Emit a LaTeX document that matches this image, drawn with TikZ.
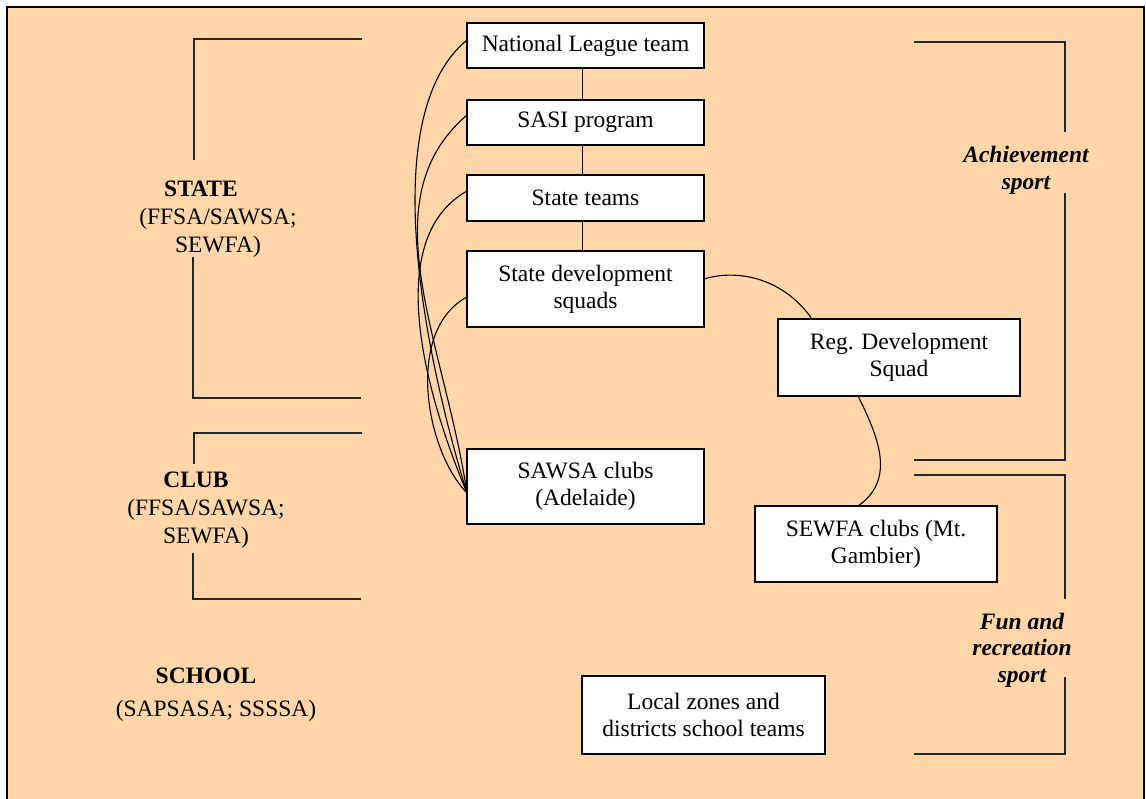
\documentclass[tikz,border=0pt]{standalone}
\usepackage{fontspec}
\setmainfont{Liberation Serif}
\definecolor{peach}{RGB}{255,214,170}
\tikzset{
  box/.style={draw=black, fill=white, line width=1.4pt, align=center, inner sep=0pt, font=\fontsize{23.5}{27}\selectfont},
  lbl/.style={align=center, inner sep=0pt, font=\fontsize{23.5}{28}\selectfont},
  conn/.style={draw=black, line width=1.1pt},
  brk/.style={draw=black!85, line width=1.4pt}
}
\begin{document}
\begin{tikzpicture}[x=1pt,y=-1pt]
\useasboundingbox (0,0) rectangle (1146,798);
\fill[white] (0,0) rectangle (1146,798);
\draw[fill=peach, line width=2pt] (7,7) rectangle (1144,840);

% boxes
\node[box, minimum width=237pt, minimum height=45pt] (nat) at (585.5,45.5) {National League team};
\node[box, minimum width=237pt, minimum height=45pt] (sasi) at (585.5,122.5) {SASI program};
\node[box, minimum width=237pt, minimum height=46pt] (st) at (585.5,198) {State teams};
\node[box, minimum width=237pt, minimum height=76pt] (sds) at (585.5,289) {State development\\squads};
\node[box, minimum width=237pt, minimum height=75pt] (saw) at (585.5,486.5) {SAWSA clubs\\(Adelaide)};
\node[box, minimum width=242pt, minimum height=77pt] (reg) at (899,357.5) {Reg. Development\\Squad};
\node[box, minimum width=242pt, minimum height=76pt] (sew) at (876,544) {SEWFA clubs (Mt.\\Gambier)};
\node[box, minimum width=243pt, minimum height=78pt] (loc) at (703.5,715) {Local zones and\\districts school teams};

% labels
\node[lbl] (state) at (218,219) {\textbf{STATE}\hspace*{34pt}\\(FFSA/SAWSA;\\SEWFA)};
\node[lbl] (club) at (206,510) {\textbf{CLUB}\hspace*{20pt}\\(FFSA/SAWSA;\\SEWFA)};
\node[lbl] (school) at (216,695) {\textbf{SCHOOL}\hspace*{20pt}\\[5pt](SAPSASA; SSSSA)};
\node[lbl, font=\fontsize{23.5}{27}\selectfont\bfseries\itshape] (ach) at (1026,170) {Achievement\\sport};
\node[lbl, font=\fontsize{23.5}{26.5}\selectfont\bfseries\itshape] (fun) at (1022,650) {Fun and\\recreation\\sport};

% vertical connectors
\draw[conn] ([xshift=-3pt]nat.south) -- ([xshift=-3pt]sasi.north);
\draw[conn] ([xshift=-3pt]sasi.south) -- ([xshift=-3pt]st.north);
\draw[conn] ([xshift=-3pt]st.south) -- ([xshift=-3pt]sds.north);

% curved connectors from SAWSA clubs
\coordinate (sw) at (467,493);
\coordinate (natw) at (467,40);
\coordinate (sasiw) at (467,115);
\coordinate (stw) at (467,191);
\coordinate (sdsw) at (467,297);
\draw[conn] (sw) .. controls (432,380) and (370,120) .. (natw);
\draw[conn] (sw) .. controls (444,340) and (368,200) .. (sasiw);
\draw[conn] (sw) .. controls (428,400) and (380,240) .. (stw);
\draw[conn] (sw) .. controls (425,450) and (405,330) .. (sdsw);

% right-side curves
\coordinate (sdse) at (704,279);
\coordinate (regn) at (812,319);
\coordinate (regs) at (858,396);
\coordinate (sewn) at (858,506);
\draw[conn] (sdse) .. controls (740,268) and (785,280) .. (regn);
\draw[conn] (regs) .. controls (880,440) and (895,480) .. (sewn);

% left brackets
\draw[brk] (362,39) -- (194,39) -- (194,160);
\draw[brk] (193,257) -- (193,398) -- (361,398);
\draw[brk] (362,433) -- (194,433) -- (194,464);
\draw[brk] (193,553) -- (193,599) -- (361,599);

% right brackets
\draw[brk] (914,42) -- (1065,42) -- (1065,132);
\draw[brk] (1065,193) -- (1065,460) -- (914,460);
\draw[brk] (914,475) -- (1065,475) -- (1065,599);
\draw[brk] (1065,677) -- (1065,754) -- (914,754);
\end{tikzpicture}
\end{document}
